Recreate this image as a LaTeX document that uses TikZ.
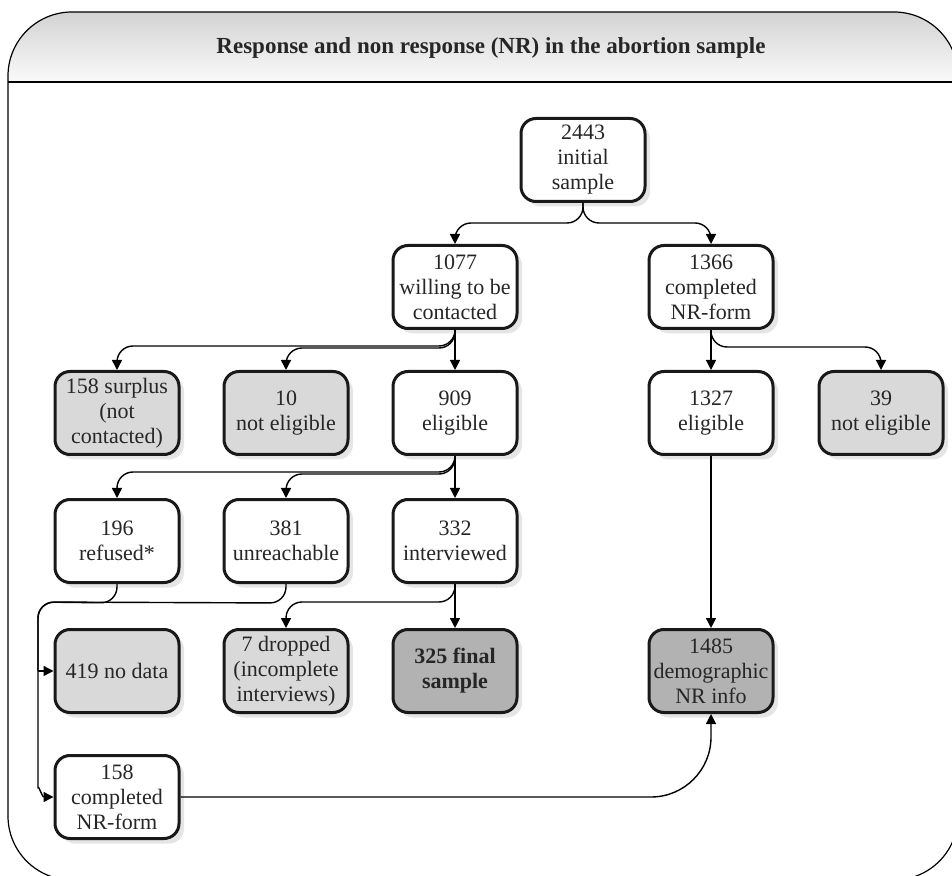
\documentclass[tikz,border=0pt]{standalone}
\usepackage{fontspec}
\setmainfont{Liberation Serif}
\usetikzlibrary{arrows.meta,shadows}

\definecolor{nrgray}{HTML}{D9D9D9}
\definecolor{fingray}{HTML}{B2B2B2}
\definecolor{txtgray}{HTML}{262626}

\tikzset{
  box/.style={draw=black!90, line width=1.5pt, rounded corners=7.5pt, fill=white,
    minimum width=62pt, minimum height=41.5pt, inner sep=1pt, align=center,
    text=txtgray, font=\fontsize{11}{12.5}\selectfont,
    drop shadow={shadow xshift=2.5pt, shadow yshift=-2.5pt, fill=black!10, opacity=1}},
  nrbox/.style={box, fill=nrgray},
  finbox/.style={box, fill=fingray},
  flow/.style={-{Triangle[length=5pt,width=5pt]}, line width=0.7pt, rounded corners=8pt},
  link/.style={line width=0.7pt, rounded corners=8pt}
}

\begin{document}
\begin{tikzpicture}[x=0.5pt,y=-0.5pt,line join=round]
		\useasboundingbox (0,0) rectangle (952,876);
		% cadre et bandeau du titre
		\begin{scope}
		\clip[rounded corners=32pt] (8,12) rectangle (958,880);
		\shade[top color=black!20, bottom color=black!2] (0,0) rectangle (960,82);
		\end{scope}
		\draw[line width=0.6pt, rounded corners=32pt] (8,12) rectangle (958,880);
		\draw[line width=0.6pt] (8,82) -- (958,82);
		\node[font=\fontsize{11.5}{13}\selectfont\bfseries, text=txtgray] (title) at (491,48)
		  {Response and non response (NR) in the abortion sample};
		% boites
		\node[box] (n2443) at (583,160) {2443\\initial\\sample};
		\node[box] (n1077) at (455,287) {1077\\willing to be\\contacted};
		\node[box] (n1366) at (711,287) {1366\\completed\\NR-form};
		\node[nrbox] (n158s) at (117,413) {158 surplus\\(not\\contacted)};
		\node[nrbox] (n10) at (286,413) {10\\not eligible};
		\node[box] (n909) at (455,413) {909\\eligible};
		\node[box] (n1327) at (711,413) {1327\\eligible};
		\node[nrbox] (n39) at (881,413) {39\\not eligible};
		\node[box] (n196) at (117,541) {196\\refused*};
		\node[box] (n381) at (286,541) {381\\unreachable};
		\node[box] (n332) at (455,541) {332\\interviewed};
		\node[nrbox] (n419) at (117,671) {419 no data};
		\node[nrbox] (n7) at (286,671) {7 dropped\\(incomplete\\interviews)};
		\node[finbox] (n325) at (455,671) {\bfseries 325 final\\\bfseries sample};
		\node[finbox] (n1485) at (711,671) {1485\\demographic\\NR info};
		\node[box] (n158c) at (117,797) {158\\completed\\NR-form};
		% fleches
		\draw[flow] (n2443.south) -- ++(0,20) -| (n1077.north);
		\draw[flow] (n2443.south) -- ++(0,20) -| (n1366.north);
		\draw[flow] (n1077.south) -- ++(0,16) -| (n158s.north);
		\draw[flow] (n1077.south) -- ++(0,18) -| (n10.north);
		\draw[flow] (n1077.south) -- (n909.north);
		\draw[flow] (n1366.south) -- (n1327.north);
		\draw[flow] (n1366.south) -- ++(0,17) -| (n39.north);
		\draw[flow] (n909.south) -- ++(0,16) -| (n196.north);
		\draw[flow] (n909.south) -- ++(0,18) -| (n381.north);
		\draw[flow] (n909.south) -- (n332.north);
		\draw[flow] (n332.south) -- ++(0,18) -| (n7.north);
		\draw[flow] (n332.south) -- (n325.north);
		\draw[flow] (n1327.south) -- (n1485.north);
		% non repondants
		\coordinate (turn) at (38,602);
		\coordinate (low) at (38,772);
		\coordinate (tee) at (turn |- n419.west);
		\draw[flow] (n196.south) -- ++(0,19) -- (turn) -- (low) to[out=-90,in=180] (n158c.west);
		\draw[link] (n381.south) -- ++(0,19) -- (turn) -- (tee);
		\draw[flow] (tee) -- (n419.west);
		\draw[flow, rounded corners=30pt] (n158c.east) -| (n1485.south);
\end{tikzpicture}
\end{document}
